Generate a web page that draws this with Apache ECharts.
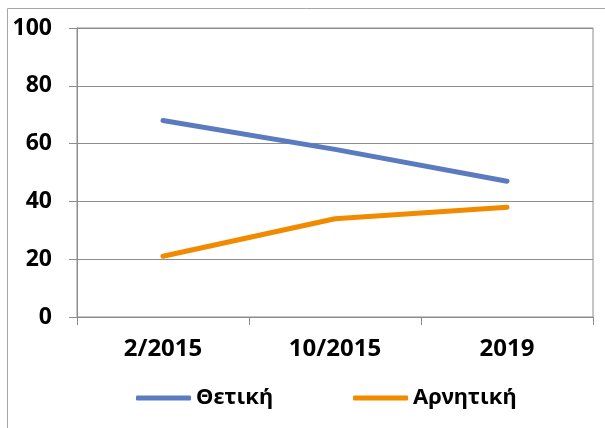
<!DOCTYPE html>
<html>
<head>
<meta charset="utf-8">
<script src="https://cdn.jsdelivr.net/npm/echarts@6/dist/echarts.min.js"></script>
<style>
html, body { margin: 0; padding: 0; background: #fff; }
#chart { width: 605px; height: 428px; }
</style>
</head>
<body>
<div id="chart"></div>
<script>
var categories = ['2/2015', '10/2015', '2019'];
var positiveValues = [68, 58, 47];
var negativeValues = [21, 34, 38];
var seriesNames = ['Θετική', 'Αρνητική'];
var yTicks = [0, 20, 40, 60, 80, 100];

var chart = echarts.init(document.getElementById('chart'));
var fontName = '"Noto Sans", "DejaVu Sans", sans-serif';
var gray = '#8c8c8c';

chart.setOption({
    animation: false,
    textStyle: { fontFamily: fontName },
    graphic: [{
        type: 'rect',
        shape: { x: 7.5, y: 8.5, width: 700, height: 500 },
        style: { fill: 'none', stroke: '#a6a6a6', lineWidth: 1 },
        silent: true
    }],
    grid: {
        left: 77,
        top: 28,
        right: 12,
        bottom: 111,
        show: true,
        borderColor: gray,
        borderWidth: 1
    },
    legend: {
        data: seriesNames,
        left: 131,
        top: 382,
        itemWidth: 55,
        itemHeight: 5,
        itemGap: 80,
        icon: 'roundRect',
        textStyle: { fontSize: 22, fontWeight: 'bold', color: '#000', fontFamily: fontName }
    },
    xAxis: {
        type: 'category',
        data: categories,
        boundaryGap: true,
        axisLine: { lineStyle: { color: gray, width: 1 } },
        axisTick: { show: true, length: 8, interval: 0, lineStyle: { color: gray } },
        axisLabel: { fontSize: 24, fontWeight: 'bold', color: '#000', margin: 20, fontFamily: fontName }
    },
    yAxis: {
        type: 'value',
        min: yTicks[0],
        max: yTicks[yTicks.length - 1],
        interval: 20,
        axisLine: { show: true, lineStyle: { color: gray, width: 1 } },
        axisTick: { show: true, length: 8, lineStyle: { color: gray } },
        splitLine: { lineStyle: { color: gray, width: 1 } },
        axisLabel: { fontSize: 23, fontWeight: 'bold', color: '#000', margin: 25, fontFamily: fontName }
    },
    series: [{
        name: seriesNames[0],
        type: 'line',
        data: positiveValues,
        symbol: 'none',
        lineStyle: { color: '#5b7bc0', width: 5, cap: 'round' },
        itemStyle: { color: '#5b7bc0' }
    }, {
        name: seriesNames[1],
        type: 'line',
        data: negativeValues,
        symbol: 'none',
        lineStyle: { color: '#f28a00', width: 5, cap: 'round' },
        itemStyle: { color: '#f28a00' }
    }]
});
</script>
</body>
</html>
